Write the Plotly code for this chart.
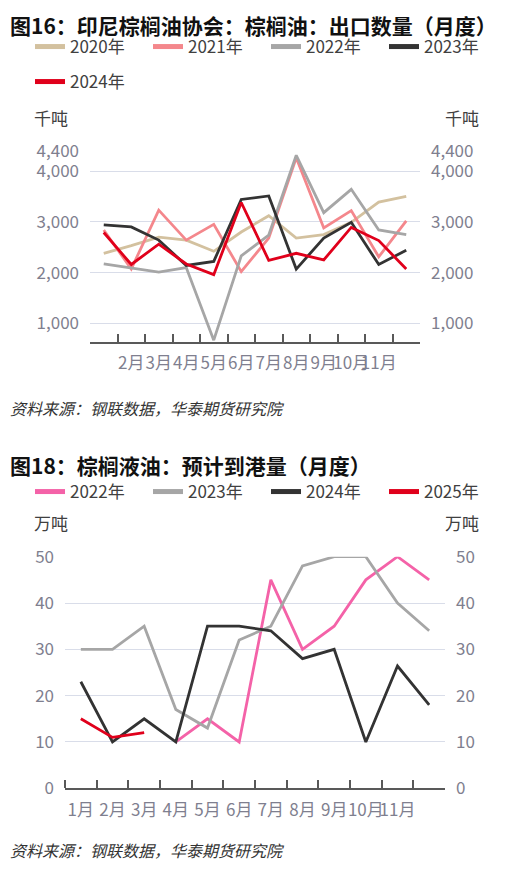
import plotly.graph_objects as go

# page has an 8px body margin, so the figure is 16px smaller than the window
OFF = 8
FW, FH = 519 - 2 * OFF, 872 - 2 * OFF

months = ["1月", "2月", "3月", "4月", "5月", "6月", "7月", "8月", "9月", "10月", "11月", "12月"]

# 图16：印尼棕榈油协会 出口数量（千吨）
exp_2020 = [2380, 2530, 2700, 2640, 2420, 2800, 3120, 2680, 2750, 2990, 3390, 3500]
exp_2021 = [2840, 2070, 3230, 2640, 2950, 2020, 2680, 4260, 2880, 3220, 2310, 3020]
exp_2022 = [2170, 2090, 2010, 2100, 670, 2330, 2740, 4310, 3180, 3640, 2840, 2750]
exp_2023 = [2940, 2900, 2640, 2140, 2220, 3440, 3510, 2070, 2680, 2990, 2160, 2440]
exp_2024 = [2790, 2160, 2560, 2170, 1960, 3380, 2240, 2380, 2250, 2890, 2630, 2070]
exp_ticks = [1000, 2000, 3000, 4000, 4400]

# 图18：棕榈液油 预计到港量（万吨）
arr_2022 = [None, None, None, 10, 15, 10, 45, 30, 35, 45, 50, 45]
arr_2023 = [30, 30, 35, 17, 13, 32, 35, 48, 50, 50, 40, 34]
arr_2024 = [23, 10, 15, 10, 35, 35, 34, 28, 30, 10, 26.4, 18]
arr_2025 = [15, 11, 12, None, None, None, None, None, None, None, None, None]
arr_ticks = [0, 10, 20, 30, 40, 50]

pos = list(range(1, len(months) + 1))

FONT = "Noto Sans CJK SC, Noto Sans, sans-serif"
TICK_C = "#7f7f8f"
TEXT_C = "#404040"
GRID_C = "#d9dde9"
AXIS_C = "#595959"


def px(x):
    return (x - OFF) / FW


def py(y):
    return 1 - (y - OFF) / FH


fig = go.Figure()

exp_series = [
    ("2020年", exp_2020, "#d3c19f"),
    ("2021年", exp_2021, "#f4878c"),
    ("2022年", exp_2022, "#a6a6a6"),
    ("2023年", exp_2023, "#333333"),
    ("2024年", exp_2024, "#e0001b"),
]
for i, (name, vals, col) in enumerate(exp_series):
    fig.add_trace(go.Scatter(x=pos, y=vals, mode="lines", line=dict(color=col, width=2.8),
                             xaxis="x", yaxis="y", showlegend=False))
    fig.add_trace(go.Scatter(x=[None], y=[None], mode="lines", name=name,
                             line=dict(color=col, width=5), xaxis="x", yaxis="y",
                             legend="legend" if i < 4 else "legend2"))
fig.add_trace(go.Scatter(x=[None], y=[None], xaxis="x", yaxis="y2", showlegend=False))

arr_series = [
    ("2022年", arr_2022, "#f462a8"),
    ("2023年", arr_2023, "#a6a6a6"),
    ("2024年", arr_2024, "#333333"),
    ("2025年", arr_2025, "#e0001b"),
]
for name, vals, col in arr_series:
    fig.add_trace(go.Scatter(x=pos, y=vals, mode="lines", line=dict(color=col, width=2.8),
                             xaxis="x2", yaxis="y3", showlegend=False))
    fig.add_trace(go.Scatter(x=[None], y=[None], mode="lines", name=name,
                             line=dict(color=col, width=5), xaxis="x2", yaxis="y3",
                             legend="legend3"))
fig.add_trace(go.Scatter(x=[None], y=[None], xaxis="x2", yaxis="y4", showlegend=False))


def xaxis(left, right, anchor, label_idx, minor_vals):
    return dict(domain=[px(left), px(right)], anchor=anchor, range=[0.5, 12.5],
                tickmode="array", tickvals=[pos[i] for i in label_idx],
                ticktext=[months[i] for i in label_idx], ticks="", tickangle=0,
                tickfont=dict(size=17, color=TICK_C, family=FONT), ticklabelstandoff=5,
                showgrid=False, zeroline=False, showline=True, linecolor=AXIS_C, linewidth=2,
                automargin=False,
                minor=dict(tickmode="array", tickvals=minor_vals, ticks="inside",
                           ticklen=8, tickwidth=1.5, tickcolor=AXIS_C, showgrid=False))


def yaxis(top, bottom, rng, ticks, fmt, side="left", overlay=None, anchor=None):
    d = dict(domain=[py(bottom), py(top)], range=rng, tickmode="array", tickvals=ticks,
             tickformat=fmt, ticks="", side=side, zeroline=False, showline=False,
             tickfont=dict(size=17, color=TICK_C, family=FONT), ticklabelstandoff=10,
             showgrid=overlay is None, gridcolor=GRID_C, gridwidth=1, automargin=False)
    if overlay:
        d["overlaying"] = overlay
    if anchor:
        d["anchor"] = anchor
    return d


def legend(y):
    return dict(orientation="h", x=px(30), y=py(y), xanchor="left", yanchor="middle",
                entrywidth=73, entrywidthmode="pixels", font=dict(size=17, color=TEXT_C),
                bgcolor="rgba(0,0,0,0)")


b1 = [p + 0.5 for p in pos[:-1]]
b2 = [0.5] + b1

fig.update_layout(
    width=FW, height=FH, margin=dict(l=0, r=0, t=0, b=0, autoexpand=False),
    paper_bgcolor="white", plot_bgcolor="white",
    font=dict(family=FONT, color=TEXT_C),
    xaxis=xaxis(90, 420, "y", range(1, 11), b1),
    yaxis=yaxis(150.7, 341.7, [640, 4400], exp_ticks, ",", anchor="x"),
    yaxis2=yaxis(150.7, 341.7, [640, 4400], exp_ticks, ",", side="right", overlay="y", anchor="x"),
    xaxis2=xaxis(65, 445, "y3", range(0, 11), b2),
    yaxis3=yaxis(556.7, 788.3, [0, 50], arr_ticks, "d", anchor="x2"),
    yaxis4=yaxis(556.7, 788.3, [0, 50], arr_ticks, "d", side="right", overlay="y3", anchor="x2"),
    legend=legend(47),
    legend2=legend(82),
    legend3=legend(492),
)

notes = [
    ("<b>图16：印尼棕榈油协会：棕榈油：出口数量（月度）</b>", 8, 8, "top", 21, "#111111"),
    ("千吨", 32, 117, "middle", 17, TEXT_C),
    ("千吨", 443, 117, "middle", 17, TEXT_C),
    ("<i>资料来源：钢联数据，华泰期货研究院</i>", 8, 408, "middle", 16, "#333333"),
    ("<b>图18：棕榈液油：预计到港量（月度）</b>", 8, 465, "middle", 21, "#111111"),
    ("万吨", 32, 522, "middle", 17, TEXT_C),
    ("万吨", 443, 522, "middle", 17, TEXT_C),
    ("<i>资料来源：钢联数据，华泰期货研究院</i>", 8, 864, "bottom", 16, "#333333"),
]
for text, x, y, ya, size, col in notes:
    fig.add_annotation(text=text, xref="paper", yref="paper", x=px(x), y=py(y),
                       xanchor="left", yanchor=ya, showarrow=False,
                       font=dict(size=size, color=col, family=FONT))

fig.write_html("out.html")
